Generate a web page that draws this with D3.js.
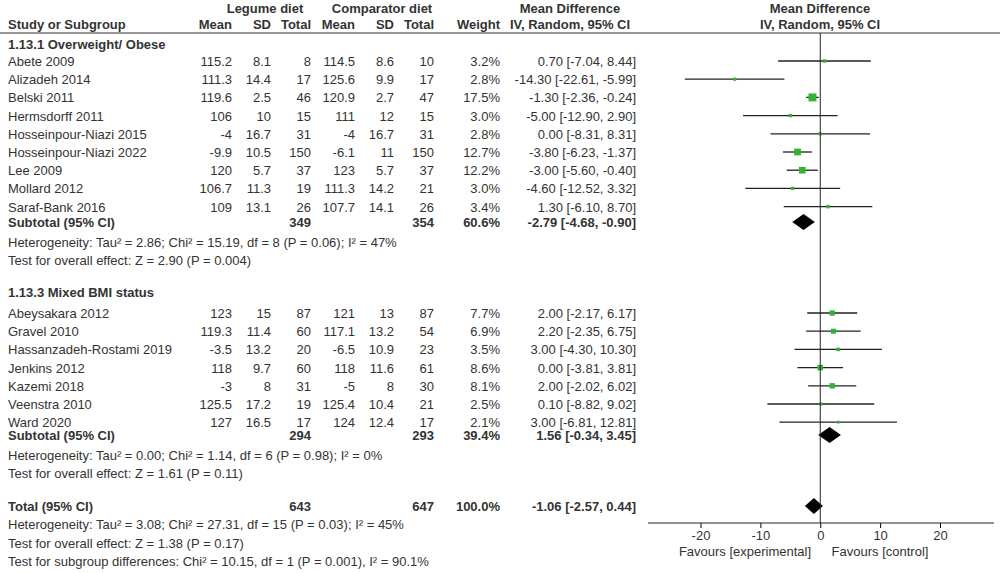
<!DOCTYPE html>
<html><head><meta charset="utf-8">
<script src="https://cdn.jsdelivr.net/npm/d3@7"></script>
<style>body{margin:0;background:#fff}text{font-family:"Liberation Sans",Arial,sans-serif;font-size:13px;fill:#333}</style>
</head><body><svg></svg>
<script>
let studies1 = ["Abete 2009","Alizadeh 2014","Belski 2011","Hermsdorff 2011","Hosseinpour-Niazi 2015","Hosseinpour-Niazi 2022","Lee 2009","Mollard 2012","Saraf-Bank 2016"];
let legMean1 = ["115.2","111.3","119.6","106","-4","-9.9","120","106.7","109"];
let legSD1 = ["8.1","14.4","2.5","10","16.7","10.5","5.7","11.3","13.1"];
let legN1 = [8,17,46,15,31,150,37,19,26];
let comMean1 = ["114.5","125.6","120.9","111","-4","-6.1","123","111.3","107.7"];
let comSD1 = ["8.6","9.9","2.7","12","16.7","11","5.7","14.2","14.1"];
let comN1 = [10,17,47,15,31,150,37,21,26];
let weight1 = [3.2,2.8,17.5,3.0,2.8,12.7,12.2,3.0,3.4];
let md1 = [0.70,-14.30,-1.30,-5.00,0.00,-3.80,-3.00,-4.60,1.30];
let lo1 = [-7.04,-22.61,-2.36,-12.90,-8.31,-6.23,-5.60,-12.52,-6.10];
let hi1 = [8.44,-5.99,-0.24,2.90,8.31,-1.37,-0.40,3.32,8.70];

let studies2 = ["Abeysakara 2012","Gravel 2010","Hassanzadeh-Rostami 2019","Jenkins 2012","Kazemi 2018","Veenstra 2010","Ward 2020"];
let legMean2 = ["123","119.3","-3.5","118","-3","125.5","127"];
let legSD2 = ["15","11.4","13.2","9.7","8","17.2","16.5"];
let legN2 = [87,60,20,60,31,19,17];
let comMean2 = ["121","117.1","-6.5","118","-5","125.4","124"];
let comSD2 = ["13","13.2","10.9","11.6","8","10.4","12.4"];
let comN2 = [87,54,23,61,30,21,17];
let weight2 = [7.7,6.9,3.5,8.6,8.1,2.5,2.1];
let md2 = [2.00,2.20,3.00,0.00,2.00,0.10,3.00];
let lo2 = [-2.17,-2.35,-4.30,-3.81,-2.02,-8.82,-6.81];
let hi2 = [6.17,6.75,10.30,3.81,6.02,9.02,12.81];

let summaries = [
  {label:"Subtotal (95% CI)", n1:349, n2:354, w:"60.6%", md:-2.79, lo:-4.68, hi:-0.90},
  {label:"Subtotal (95% CI)", n1:294, n2:293, w:"39.4%", md:1.56, lo:-0.34, hi:3.45},
  {label:"Total (95% CI)", n1:643, n2:647, w:"100.0%", md:-1.06, lo:-2.57, hi:0.44}
];
let notes1 = ["Heterogeneity: Tau² = 2.86; Chi² = 15.19, df = 8 (P = 0.06); I² = 47%","Test for overall effect: Z = 2.90 (P = 0.004)"];
let notes2 = ["Heterogeneity: Tau² = 0.00; Chi² = 1.14, df = 6 (P = 0.98); I² = 0%","Test for overall effect: Z = 1.61 (P = 0.11)"];
let notes3 = ["Heterogeneity: Tau² = 3.08; Chi² = 27.31, df = 15 (P = 0.03); I² = 45%","Test for overall effect: Z = 1.38 (P = 0.17)","Test for subgroup differences: Chi² = 10.15, df = 1 (P = 0.001), I² = 90.1%"];
let ticks = [-20,-10,0,10,20];

let svg = d3.select("svg").attr("width",1000).attr("height",573);
let x = d3.scaleLinear().domain([-20,20]).range([700.5,940]);
let f2 = d => d.toFixed(2);
let ci = (m,l,h) => `${f2(m)} [${f2(l)}, ${f2(h)}]`;

function txt(s, xx, y, anchor, bold) {
  svg.append("text").attr("x",xx).attr("y",y).attr("text-anchor",anchor||"start")
     .attr("font-weight",bold?"bold":"normal").text(s);
}

// header
txt("Legume diet",265,13,"middle",true);
txt("Comparator diet",382,13,"middle",true);
txt("Mean Difference",570,13,"middle",true);
txt("Mean Difference",820,13,"middle",true);
let hy = 29;
txt("Study or Subgroup",8,hy,"start",true);
[["Mean",232],["SD",271],["Total",311],["Mean",355],["SD",394],["Total",434],["Weight",500]].forEach(h=>txt(h[0],h[1],hy,"end",true));
txt("IV, Random, 95% CI",570,hy,"middle",true);
txt("IV, Random, 95% CI",820,hy,"middle",true);
svg.append("line").attr("x1",0).attr("x2",1000).attr("y1",33).attr("y2",33).attr("stroke","#333");

let cols = [232,271,311,355,394,434,500];
function studyRows(names, lm, ls, ln, cm, cs, cn, w, md, lo, hi, y0) {
  names.forEach((n,i)=>{
    let y = y0 + i*18.2;
    txt(n,8,y+5);
    [lm[i],ls[i],ln[i],cm[i],cs[i],cn[i],w[i].toFixed(1)+"%"].forEach((v,j)=>txt(v,cols[j],y+5,"end"));
    txt(ci(md[i],lo[i],hi[i]),636,y+5,"end");
    svg.append("line").attr("x1",x(lo[i])).attr("x2",x(hi[i])).attr("y1",y).attr("y2",y).attr("stroke","#222").attr("stroke-width",1.3);
    let s = Math.sqrt(w[i])*1.9;
    svg.append("rect").attr("x",x(md[i])-s/2).attr("y",y-s/2).attr("width",s).attr("height",s).attr("fill","#2fb52f");
  });
}
function summary(s, y) {
  txt(s.label,8,y+5,"start",true);
  txt(s.n1,311,y+5,"end",true); txt(s.n2,434,y+5,"end",true); txt(s.w,500,y+5,"end",true);
  txt(ci(s.md,s.lo,s.hi),636,y+5,"end",true);
  let d = `M${x(s.lo)},${y}L${x(s.md)},${y-8}L${x(s.hi)},${y}L${x(s.md)},${y+8}Z`;
  svg.append("path").attr("d",d).attr("fill","#000");
}

txt("1.13.1 Overweight/ Obese",8,49,"start",true);
studyRows(studies1,legMean1,legSD1,legN1,comMean1,comSD1,comN1,weight1,md1,lo1,hi1,61);
summary(summaries[0],222);
notes1.forEach((t,i)=>txt(t,8,247+i*18));
txt("1.13.3 Mixed BMI status",8,297,"start",true);
studyRows(studies2,legMean2,legSD2,legN2,comMean2,comSD2,comN2,weight2,md2,lo2,hi2,313);
summary(summaries[1],435);
notes2.forEach((t,i)=>txt(t,8,460+i*18));
summary(summaries[2],506);
notes3.forEach((t,i)=>txt(t,8,529+i*18.5));

// zero line and axis
svg.append("line").attr("x1",x(0)).attr("x2",x(0)).attr("y1",33).attr("y2",523).attr("stroke","#222");
let ax = svg.append("g").attr("transform","translate(0,523)")
  .call(d3.axisBottom(x).tickValues(ticks).tickSize(5).tickFormat(d => String(d)));
ax.select(".domain").remove();
ax.selectAll("text").style("font-size","13px").attr("fill","#333").style("font-family","Liberation Sans, Arial");
svg.append("line").attr("x1",648).attr("x2",994).attr("y1",523).attr("y2",523).attr("stroke","#222");
txt("Favours [experimental]",745,556,"middle");
txt("Favours [control]",880,556,"middle");
</script></body></html>
